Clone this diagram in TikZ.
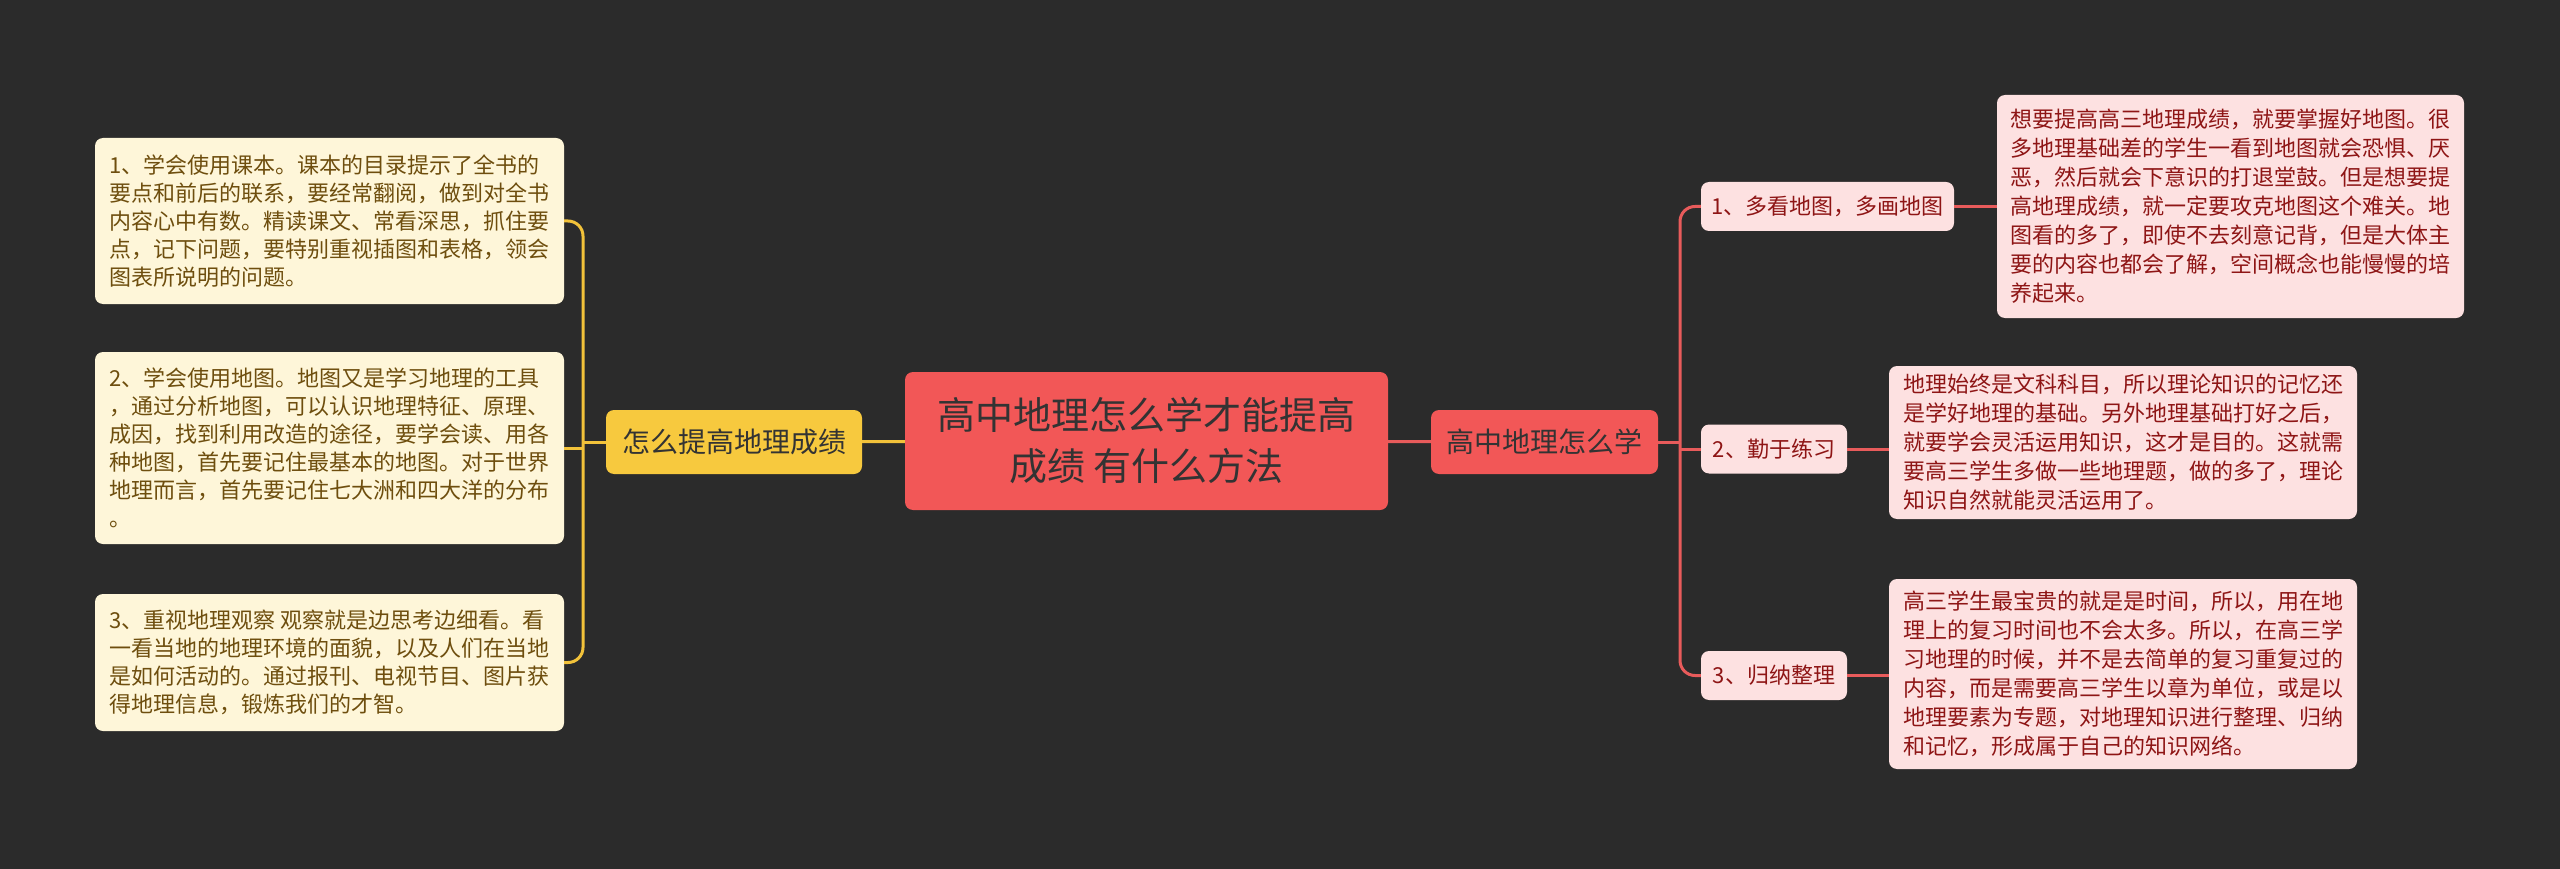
\documentclass[tikz,border=0pt]{standalone}
\usepackage{fontspec}
\setmainfont{Noto Sans CJK SC}
\definecolor{bgcol}{HTML}{2B2B2B}
\definecolor{rootcol}{HTML}{F25757}
\definecolor{goldcol}{HTML}{F7C93E}
\definecolor{creamcol}{HTML}{FEF6D9}
\definecolor{browncol}{HTML}{6E4E0E}
\definecolor{pinkcol}{HTML}{FDE1E1}
\definecolor{wine}{HTML}{8E1515}
\definecolor{redline}{HTML}{E85B5B}
\definecolor{goldline}{HTML}{F2C23A}
\begin{document}
\begin{tikzpicture}[x=1pt,y=-1pt,
    root node/.style={rounded corners=8,fill=rootcol,text=black!80,align=center,font=\fontsize{38}{51}\selectfont,minimum width=483,minimum height=138},
    gold node/.style={rounded corners=8,fill=goldcol,text=black!80,font=\fontsize{28}{34}\selectfont,minimum width=256,minimum height=64},
    red node/.style={rounded corners=8,fill=rootcol,text=black!80,font=\fontsize{28}{34}\selectfont,minimum width=227,minimum height=64},
    cream node/.style={rounded corners=8,fill=creamcol,text=browncol,align=left,font=\fontsize{22}{28}\selectfont,minimum width=469},
    pink node/.style={rounded corners=8,fill=pinkcol,text=wine,align=left,font=\fontsize{22}{29}\selectfont,minimum width=468},
    sub node/.style={rounded corners=8,fill=pinkcol,text=wine,font=\fontsize{22}{26}\selectfont,minimum height=49},
    gold edge/.style={draw=goldline,line width=3},
    red edge/.style={draw=redline,line width=3}]
        \fill[bgcol] (0,0) rectangle (2560,869);

        \node[root node] at (1146.5, 441) (root) {高中地理怎么学才能提高\\成绩 有什么方法};
        \node[gold node] at (734, 442) (how) {怎么提高地理成绩};
        \node[red node] at (1544.5, 442) (learn) {高中地理怎么学};

        \node[cream node, minimum height=166] at (329.5, 221) (book) {1、学会使用课本。课本的目录提示了全书的\\要点和前后的联系，要经常翻阅，做到对全书\\内容心中有数。精读课文、常看深思，抓住要\\点，记下问题，要特别重视插图和表格，领会\\图表所说明的问题。};
        \node[cream node, minimum height=192] at (329.5, 448) (map) {2、学会使用地图。地图又是学习地理的工具\\，通过分析地图，可以认识地理特征、原理、\\成因，找到利用改造的途径，要学会读、用各\\种地图，首先要记住最基本的地图。对于世界\\地理而言，首先要记住七大洲和四大洋的分布\\。};
        \node[cream node, minimum height=137] at (329.5, 662.5) (watch) {3、重视地理观察 观察就是边思考边细看。看\\一看当地的地理环境的面貌，以及人们在当地\\是如何活动的。通过报刊、电视节目、图片获\\得地理信息，锻炼我们的才智。};

        \node[sub node, minimum width=253] at (1827.5, 206.5) (draw) {1、多看地图，多画地图};
        \node[sub node, minimum width=146] at (1774, 449) (practice) {2、勤于练习};
        \node[sub node, minimum width=146] at (1774, 675.5) (sort) {3、归纳整理};

        \node[pink node, minimum height=223, minimum width=467] at (2230.5, 206.5) (drawtxt) {想要提高高三地理成绩，就要掌握好地图。很\\多地理基础差的学生一看到地图就会恐惧、厌\\恶，然后就会下意识的打退堂鼓。但是想要提\\高地理成绩，就一定要攻克地图这个难关。地\\图看的多了，即使不去刻意记背，但是大体主\\要的内容也都会了解，空间概念也能慢慢的培\\养起来。};
        \node[pink node, minimum height=153] at (2123, 442.5) (practicetxt) {地理始终是文科科目，所以理论知识的记忆还\\是学好地理的基础。另外地理基础打好之后，\\就要学会灵活运用知识，这才是目的。这就需\\要高三学生多做一些地理题，做的多了，理论\\知识自然就能灵活运用了。};
        \node[pink node, minimum height=190] at (2123, 674) (sorttxt) {高三学生最宝贵的就是是时间，所以，用在地\\理上的复习时间也不会太多。所以，在高三学\\习地理的时候，并不是去简单的复习重复过的\\内容，而是需要高三学生以章为单位，或是以\\地理要素为专题，对地理知识进行整理、归纳\\和记忆，形成属于自己的知识网络。};

        \coordinate (lfork) at (583, 442);
        \coordinate (rfork) at (1680, 442);

        \path[gold edge] (root) edge (how) (how.west) edge (lfork);
        \draw[gold edge, rounded corners=15] (book.east) -| (lfork) |- (watch.east);
        \draw[gold edge] (map.east) -- (map.east -| lfork);

        \path[red edge] (root) edge (learn) (learn.east) edge (rfork);
        \draw[red edge, rounded corners=15] (draw.west) -| (rfork) |- (sort.west);
        \draw[red edge] (practice.west) -- (practice.west -| rfork);
        \path[red edge]
            (draw.east) edge (draw.east -| drawtxt.west)
            (practice.east) edge (practice.east -| practicetxt.west)
            (sort.east) edge (sort.east -| sorttxt.west)
            ;
\end{tikzpicture}
\end{document}
